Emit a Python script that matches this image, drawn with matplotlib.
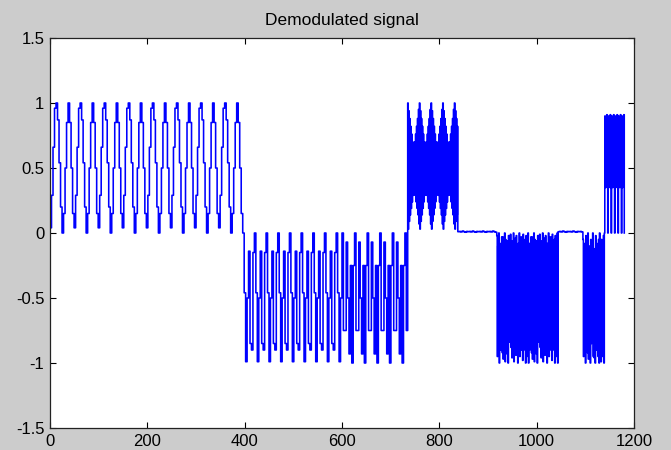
import numpy as np
import matplotlib
matplotlib.use("Agg")
import matplotlib.pyplot as plt

# Demodulated signal.
# Each piece: start x, end x, number of samples, and the levels of the
# repeating cycle(s) seen in that piece.

# piece 1: slow 0..1 wave (two cycle shapes, 8 levels each)
seg1_span = (0, 396, 128)
seg1_levels = [0.04, 0.29, 0.66, 0.96, 1.0, 0.87, 0.54, 0.20,
               0.00, 0.15, 0.50, 0.85, 1.0, 0.85, 0.50, 0.15]

# piece 2a: faster 0..-1 wave
seg2a_span = (396, 600, 68)
seg2a_levels = [0.0, -0.46, -0.99, -0.50,
                -0.14, -0.85, -0.90, -0.15]

# piece 2b: even faster 0..-1 wave
seg2b_span = (600, 735, 47)
seg2b_levels = [0.0, -0.75, -0.75,
                -0.07, -0.50, -0.93,
                -0.25, -1.0, -0.25]

# piece 3: dense 0..1 band (upper / lower samples alternate)
seg3_span = (735, 838, 103)
seg3_upper = [1.00, 0.94, 0.88, 0.82, 0.76, 0.70, 0.65, 0.70, 0.76, 0.82, 0.88, 0.95]
seg3_lower = [0.03, 0.09, 0.14, 0.19, 0.24, 0.29, 0.33, 0.29, 0.24, 0.19, 0.14, 0.07]

# near-zero flat parts
flat1_span = (838, 918, 27)
flat2_span = (1044, 1095, 17)
flat_levels = [0.010, 0.012, 0.008, 0.015, 0.010, 0.006, 0.012]

# piece 4: dense 0..-1 band
seg4_span = (918, 1044, 126)
seg4_upper = [-0.02, -0.10, 0.0, -0.08, -0.18, -0.03, -0.03, -0.10, 0.0, -0.05,
              -0.25, -0.06, -0.02, -0.12, -0.01, -0.06, -0.10, 0.0, -0.08, -0.04,
              -0.02, -0.20, -0.08, 0.0, -0.12, -0.03, -0.10, -0.01, -0.15, -0.05]
seg4_lower = [-0.95, -0.88, -1.0, -0.90, -0.70, -0.92, -0.97, -0.86, -0.99, -0.85,
              -0.93, -1.0, -0.84, -0.65, -0.88, -0.96, -0.90, -0.99, -0.80, -0.94,
              -0.87, -1.0, -0.84, -0.95, -0.60, -0.90, -0.98, -0.90, -0.83, -1.0]

# piece 5: short dense 0..-1 band
seg5_span = (1095, 1139, 44)
seg5_upper = [-0.05, -0.25, -0.08, -0.02, -0.15, 0.0, -0.30, -0.10, -0.05, -0.10, 0.0,
              -0.12, -0.25, -0.02, -0.08, -0.20, -0.05, 0.0, -0.12, -0.05, -0.25, -0.02]
seg5_lower = [-0.95, -0.80, -1.0, -0.85, -0.92, -0.97, -0.90, -1.0, -0.85, -0.78, -0.95,
              -0.96, -1.0, -0.90, -0.80, -0.95, -1.0, -0.88, -0.99, -0.82, -0.95, -1.0]

# piece 6: short dense 0.35..0.9 band with dips to 0
seg6_span = (1139, 1180, 41)
seg6_levels = [0.0, 0.90, 0.35, 0.88, 0.36, 0.91, 0.35]
end_level = 0.0


def piece(span, levels):
    start, end, n = span
    xs = np.linspace(start, end, n, endpoint=False)
    ys = np.resize(np.asarray(levels, dtype=float), n)
    return xs, ys


def interleave(upper, lower):
    return np.column_stack([upper, lower]).ravel()


parts = [
    piece(seg1_span, seg1_levels),
    piece(seg2a_span, seg2a_levels),
    piece(seg2b_span, seg2b_levels),
    piece(seg3_span, interleave(seg3_upper, seg3_lower)),
    piece(flat1_span, flat_levels),
    piece(seg4_span, interleave(seg4_upper, seg4_lower)),
    piece(flat2_span, flat_levels),
    piece(seg5_span, interleave(seg5_upper, seg5_lower)),
    piece(seg6_span, seg6_levels),
]
x = np.concatenate([p[0] for p in parts] + [[seg6_span[1]]])
y = np.concatenate([p[1] for p in parts] + [[end_level]])

plt.rcParams["font.family"] = ["Liberation Sans", "DejaVu Sans"]
plt.rcParams["axes.unicode_minus"] = False
plt.rcParams["path.simplify"] = False

fig = plt.figure(figsize=(6.71, 4.5), dpi=100, facecolor="#cccccc")
ax = fig.add_axes([50 / 671, 1 - 428 / 450, 584 / 671, 390 / 450])
ax.set_facecolor("white")

line, = ax.plot(x, y, color="#0000ff", linewidth=1.15, drawstyle="steps-post")
line.set_snap(False)

ax.set_xlim(0, 1200)
ax.set_ylim(-1.5, 1.5)
ax.set_xticks(np.arange(0, 1201, 200))
ax.set_yticks([-1.5, -1, -0.5, 0, 0.5, 1, 1.5])
ax.set_yticklabels(["-1.5", "-1", "-0.5", "0", "0.5", "1", "1.5"])

ax.tick_params(direction="in", length=4, width=0.8, top=True, right=True,
               labelsize=12, pad=4, colors="black")
for s in ax.spines.values():
    s.set_linewidth(0.9)
    s.set_color("#222222")

ax.set_title("Demodulated signal", fontsize=12.5, pad=9)

fig.savefig("out.png", dpi=100, facecolor=fig.get_facecolor())
